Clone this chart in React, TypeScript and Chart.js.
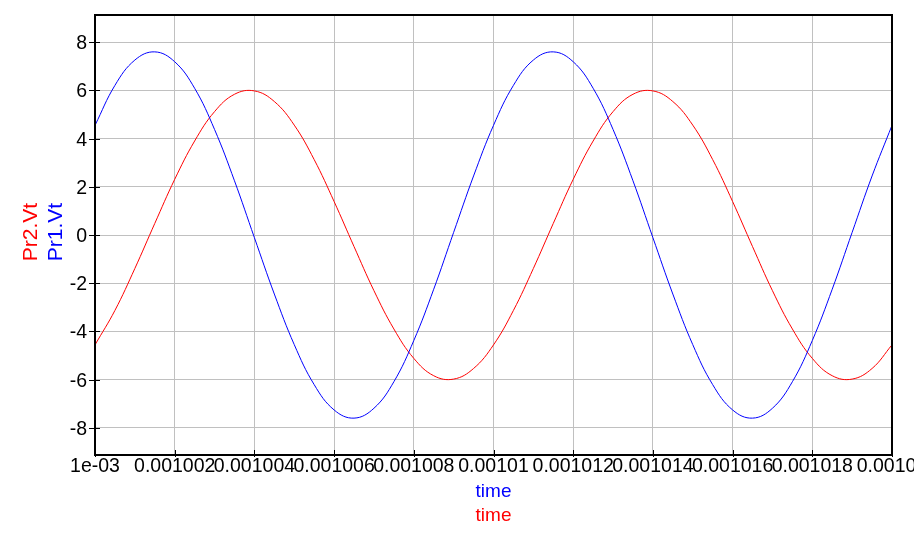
import React, { useEffect, useRef } from "react";
import { Chart, registerables } from "chart.js";

Chart.register(...registerables);

const times = [
  0.001, 0.0010005, 0.001001, 0.0010015, 0.001002, 0.0010025, 0.001003, 0.0010035, 0.001004, 0.0010045,
  0.001005, 0.0010055, 0.001006, 0.0010065, 0.001007, 0.0010075, 0.001008, 0.0010085, 0.001009, 0.0010095,
  0.00101, 0.0010105, 0.001011, 0.0010115, 0.001012, 0.0010125, 0.001013, 0.0010135, 0.001014, 0.0010145,
  0.001015, 0.0010155, 0.001016, 0.0010165, 0.001017, 0.0010175, 0.001018, 0.0010185, 0.001019, 0.0010195,
  0.00102,
];

const pr1Vt = [
  4.55, 6.21, 7.26, 7.6, 7.19, 6.09, 4.38, 2.25, -0.11, -2.45,
  -4.55, -6.21, -7.26, -7.6, -7.19, -6.09, -4.38, -2.25, 0.11, 2.45,
  4.55, 6.21, 7.26, 7.6, 7.19, 6.09, 4.38, 2.25, -0.11, -2.45,
  -4.55, -6.21, -7.26, -7.6, -7.19, -6.09, -4.38, -2.25, 0.11, 2.45,
  4.55,
];

const pr2Vt = [
  -4.56, -3.13, -1.39, 0.48, 2.31, 3.9, 5.12, 5.84, 5.98, 5.54,
  4.56, 3.13, 1.39, -0.48, -2.31, -3.9, -5.12, -5.84, -5.98, -5.54,
  -4.56, -3.13, -1.39, 0.48, 2.31, 3.9, 5.12, 5.84, 5.98, 5.54,
  4.56, 3.13, 1.39, -0.48, -2.31, -3.9, -5.12, -5.84, -5.98, -5.54,
  -4.56,
];

const xTickValues = [
  0.001, 0.001002, 0.001004, 0.001006, 0.001008, 0.00101, 0.001012, 0.001014, 0.001016, 0.001018, 0.00102,
];
const xTickLabels = [
  "1e-03", "0.001002", "0.001004", "0.001006", "0.001008", "0.00101", "0.001012", "0.001014", "0.001016", "0.001018", "0.00102",
];
const yTickValues = [-8, -6, -4, -2, 0, 2, 4, 6, 8];
const yTickLabels = ["-8", "-6", "-4", "-2", "0", "2", "4", "6", "8"];

const xTitles = ["time", "time"];
const xTitleColors = ["#0000ff", "#ff0000"];
const yTitles = ["Pr2.Vt", "Pr1.Vt"];
const yTitleColors = ["#ff0000", "#0000ff"];

const FONT = '"Liberation Sans", Arial, sans-serif';

const decorPlugin = {
  id: "decor",
  afterDraw(chart: any) {
    const ctx = chart.ctx as CanvasRenderingContext2D;
    const area = chart.chartArea;
    const xs = chart.scales.x;
    const ys = chart.scales.y;
    ctx.save();
    // frame
    ctx.strokeStyle = "#000000";
    ctx.lineWidth = 2;
    ctx.strokeRect(area.left, area.top, area.right - area.left, area.bottom - area.top);
    // tick marks
    ctx.lineWidth = 1;
    ctx.beginPath();
    yTickValues.forEach((v) => {
      const py = Math.round(ys.getPixelForValue(v)) + 0.5;
      ctx.moveTo(area.left - 6, py);
      ctx.lineTo(area.left + 5, py);
    });
    xTickValues.forEach((v) => {
      const px = Math.round(xs.getPixelForValue(v)) + 0.5;
      ctx.moveTo(px, area.bottom - 5);
      ctx.lineTo(px, area.bottom + 2);
    });
    ctx.stroke();
    // tick labels
    ctx.fillStyle = "#000000";
    ctx.font = "19.5px " + FONT;
    ctx.textBaseline = "alphabetic";
    ctx.textAlign = "right";
    yTickValues.forEach((v, i) => {
      const py = ys.getPixelForValue(v);
      ctx.fillText(yTickLabels[i], area.left - 8, py + 7);
    });
    ctx.textAlign = "center";
    xTickValues.forEach((v, i) => {
      const px = xs.getPixelForValue(v);
      ctx.fillText(xTickLabels[i], px, area.bottom + 17);
    });
    // x titles
    ctx.font = "19px " + FONT;
    const cx = (area.left + area.right) / 2;
    xTitles.forEach((t, i) => {
      ctx.fillStyle = xTitleColors[i];
      ctx.fillText(t, cx, area.bottom + 42 + i * 24);
    });
    // y titles
    ctx.font = "21px " + FONT;
    const cy = (area.top + area.bottom) / 2 - 3;
    yTitles.forEach((t, i) => {
      ctx.save();
      ctx.translate(37 + i * 25, cy);
      ctx.rotate(-Math.PI / 2);
      ctx.fillStyle = yTitleColors[i];
      ctx.textAlign = "center";
      ctx.fillText(t, 0, 0);
      ctx.restore();
    });
    ctx.restore();
  },
};

export default function App() {
  const canvasRef = useRef<HTMLCanvasElement | null>(null);

  useEffect(() => {
    const canvas = canvasRef.current;
    if (!canvas) return;
    const chart = new Chart(canvas, {
      type: "line",
      data: {
        datasets: [
          {
            label: "Pr1.Vt",
            data: times.map((t, i) => ({ x: t, y: pr1Vt[i] })),
            borderColor: "#0000ff",
            borderWidth: 1,
            pointRadius: 0,
            tension: 0.4,
            fill: false,
          },
          {
            label: "Pr2.Vt",
            data: times.map((t, i) => ({ x: t, y: pr2Vt[i] })),
            borderColor: "#ff0000",
            borderWidth: 1,
            pointRadius: 0,
            tension: 0.4,
            fill: false,
          },
        ],
      },
      options: {
        responsive: false,
        animation: false,
        devicePixelRatio: 1,
        layout: { padding: { left: 95, right: 22, top: 15, bottom: 105 } },
        plugins: {
          legend: { display: false },
          tooltip: { enabled: false },
          title: { display: false },
        },
        scales: {
          x: {
            type: "linear",
            min: 0.001,
            max: 0.00102,
            afterBuildTicks: (scale: any) => {
              scale.ticks = xTickValues.map((v) => ({ value: v }));
            },
            ticks: { display: false },
            grid: { color: "#c0c0c0", lineWidth: 1, drawTicks: false },
            border: { display: false },
          },
          y: {
            type: "linear",
            min: -9.13,
            max: 9.13,
            afterBuildTicks: (scale: any) => {
              scale.ticks = yTickValues.map((v) => ({ value: v }));
            },
            ticks: { display: false },
            grid: { color: "#c0c0c0", lineWidth: 1, drawTicks: false },
            border: { display: false },
          },
        },
      },
      plugins: [decorPlugin],
    });
    return () => chart.destroy();
  }, []);

  return (
    <div style={{ position: "fixed", left: 0, top: 0, width: 914, height: 560, background: "#ffffff" }}>
      <canvas ref={canvasRef} width={914} height={560} style={{ display: "block" }} />
    </div>
  );
}
